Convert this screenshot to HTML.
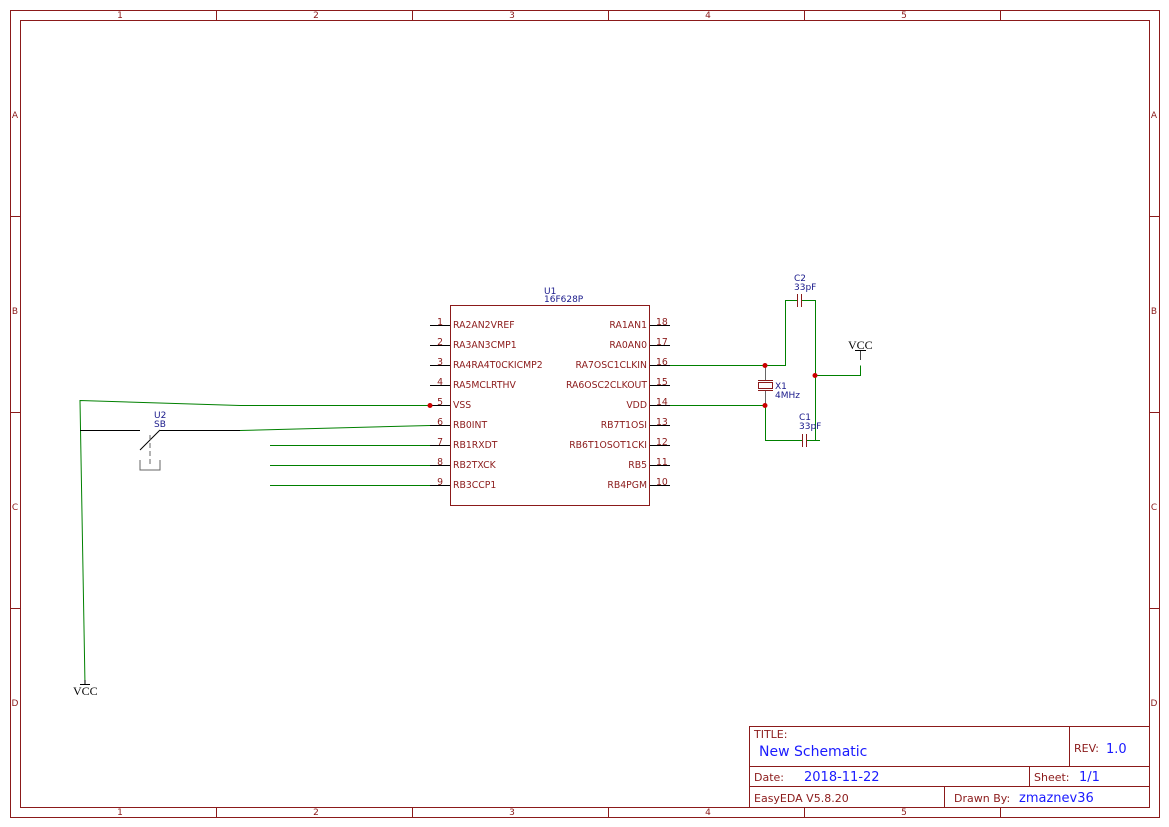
<!DOCTYPE html>
<html><head><style>body{margin:0;background:#fff}svg{display:block}text{font-family:"DejaVu Sans","Liberation Sans",sans-serif}text.serif{font-family:"Liberation Serif",serif}</style></head><body>
<svg width="1169" height="827" viewBox="0 0 1169 827" xmlns="http://www.w3.org/2000/svg">
<g fill="none" stroke="#8b1a1a" stroke-width="1">
<rect x="10.5" y="10.5" width="1149" height="807"/>
<rect x="20.5" y="20.5" width="1129" height="787"/>
<path d="M216.5 10v10M412.5 10v10M608.5 10v10M804.5 10v10M1000.5 10v10M216.5 807v10M412.5 807v10M608.5 807v10M804.5 807v10M1000.5 807v10M10 216.5h10M10 412.5h10M10 608.5h10M1149 216.5h10M1149 412.5h10M1149 608.5h10"/>
<rect x="749.5" y="726.5" width="400" height="81"/>
<path d="M749 766.5h400M749 786.5h400M1069.5 726v40M1029.5 766v20M944.5 786v21"/>
</g>
<g fill="#8b1a1a" font-size="9" text-anchor="middle">
<text x="120" y="18">1</text><text x="316" y="18">2</text><text x="512" y="18">3</text><text x="708" y="18">4</text><text x="904" y="18">5</text>
<text x="120" y="815">1</text><text x="316" y="815">2</text><text x="512" y="815">3</text><text x="708" y="815">4</text><text x="904" y="815">5</text>
<text x="15" y="118">A</text><text x="15" y="314">B</text><text x="15" y="510">C</text><text x="15" y="706">D</text>
<text x="1154" y="118">A</text><text x="1154" y="314">B</text><text x="1154" y="510">C</text><text x="1154" y="706">D</text>
</g>
<g font-size="11" fill="#8b1a1a"><text x="754" y="738">TITLE:</text><text x="1074" y="752">REV:</text><text x="754" y="781">Date:</text><text x="1034" y="781">Sheet:</text><text x="754" y="802">EasyEDA V5.8.20</text><text x="954" y="802">Drawn By:</text></g>
<g fill="#1a1aff"><text x="759" y="756" font-size="14">New Schematic</text><text x="1106" y="753" font-size="13">1.0</text><text x="804" y="781" font-size="13">2018-11-22</text><text x="1079" y="781" font-size="13">1/1</text><text x="1019" y="802" font-size="13">zmaznev36</text></g>
<rect x="450.5" y="305.5" width="199" height="200" fill="none" stroke="#8b1a1a"/>
<text x="544" y="294" font-size="9" fill="#1a1a8b">U1</text><text x="544" y="302" font-size="9" fill="#1a1a8b">16F628P</text>
<g stroke="#000"><path d="M430 325.5h20M430 345.5h20M430 365.5h20M430 385.5h20M430 405.5h20M430 425.5h20M430 445.5h20M430 465.5h20M430 485.5h20M650 325.5h20M650 345.5h20M650 365.5h20M650 385.5h20M650 405.5h20M650 425.5h20M650 445.5h20M650 465.5h20M650 485.5h20"/></g>
<g font-size="9.3" fill="#8b1a1a">
<text x="453" y="328">RA2AN2VREF</text><text x="453" y="348">RA3AN3CMP1</text><text x="453" y="368">RA4RA4T0CKICMP2</text><text x="453" y="388">RA5MCLRTHV</text><text x="453" y="408">VSS</text><text x="453" y="428">RB0INT</text><text x="453" y="448">RB1RXDT</text><text x="453" y="468">RB2TXCK</text><text x="453" y="488">RB3CCP1</text>
<g text-anchor="end"><text x="647" y="328">RA1AN1</text><text x="647" y="348">RA0AN0</text><text x="647" y="368">RA7OSC1CLKIN</text><text x="647" y="388">RA6OSC2CLKOUT</text><text x="647" y="408">VDD</text><text x="647" y="428">RB7T1OSI</text><text x="647" y="448">RB6T1OSOT1CKI</text><text x="647" y="468">RB5</text><text x="647" y="488">RB4PGM</text>
<text x="443" y="325">1</text><text x="443" y="345">2</text><text x="443" y="365">3</text><text x="443" y="385">4</text><text x="443" y="405">5</text><text x="443" y="425">6</text><text x="443" y="445">7</text><text x="443" y="465">8</text><text x="443" y="485">9</text></g>
<text x="656" y="325">18</text><text x="656" y="345">17</text><text x="656" y="365">16</text><text x="656" y="385">15</text><text x="656" y="405">14</text><text x="656" y="425">13</text><text x="656" y="445">12</text><text x="656" y="465">11</text><text x="656" y="485">10</text>
</g>
<g fill="none" stroke="#008000">
<path d="M670 365.5h115.5V300.5h12M801 300.5h14.5V440.5M815 375.5h45.5v-10M670 405.5h95M765.5 405v35.5h37M806 440.5h14"/>
<path d="M430 405.5H240L80 400.5L85 685"/>
<path d="M240 430.5L430 425.5"/>
<path d="M270 445.5h160M270 465.5h160M270 485.5h160"/>
</g>
<g stroke="#000" fill="none">
<path d="M80 430.5h60M160 430.5h80M140 450L160 430"/>
<path d="M150 435v30" stroke-dasharray="5,3" stroke="#666"/>
<path d="M140 460v10h20v-10" stroke="#666"/>
<path d="M80 684.5h10M85 680v5"/>
<path d="M765.5 365v15M765.5 390v15" stroke="#666"/>
<path d="M860.5 350v10" stroke="#444"/>
<path d="M855 350.5h11"/>
</g>
<g stroke="#8b1a1a" fill="none">
<rect x="758.5" y="382.5" width="14" height="6"/>
<path d="M758 380.5h15M758 390.5h15M797.5 294v13M801.5 294v13M802.5 434v13M806.5 434v13"/>
</g>
<text x="848" y="349" class="serif" font-size="12">VCC</text>
<text x="73" y="695" class="serif" font-size="12">VCC</text>
<g fill="#c00"><circle cx="430" cy="405.5" r="2.5"/><circle cx="765" cy="365.5" r="2.5"/><circle cx="765" cy="405.5" r="2.5"/><circle cx="815" cy="375.5" r="2.5"/></g>
<g font-size="9" fill="#1a1a8b"><text x="794" y="281">C2</text><text x="794" y="290">33pF</text><text x="775" y="389">X1</text><text x="775" y="398">4MHz</text><text x="799" y="420">C1</text><text x="799" y="429">33pF</text><text x="154" y="418">U2</text><text x="154" y="427">SB</text></g>
</svg>
</body></html>
